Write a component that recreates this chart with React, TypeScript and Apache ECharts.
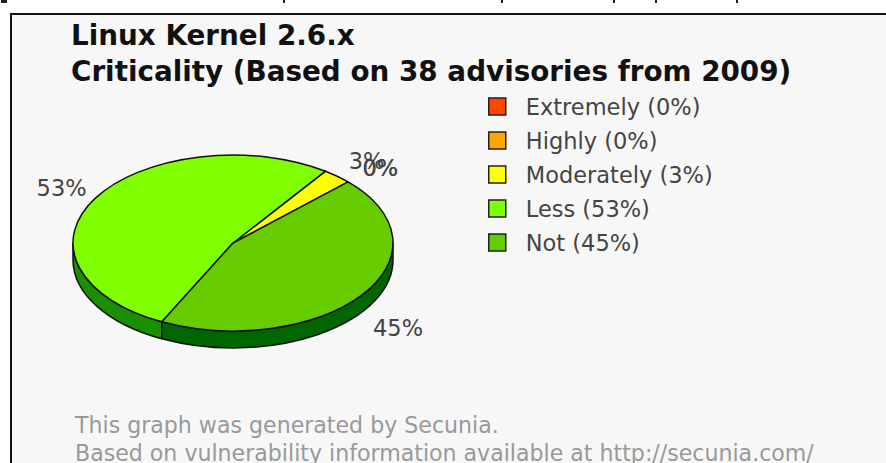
import React, { useEffect, useRef } from "react";
import * as echarts from "echarts";

const categories = ["Extremely", "Highly", "Moderately", "Less", "Not"];
const percents = [0, 0, 3, 53, 45];
const topColors = ["#ff4500", "#ffa500", "#ffff00", "#80ff00", "#66cc00"];
const sideColors = ["#b03000", "#b07000", "#a8a800", "#1a8f00", "#006600"];
const titleLines = ["Linux Kernel 2.6.x", "Criticality (Based on 38 advisories from 2009)"];
const footerLines = [
  "This graph was generated by Secunia.",
  "Based on vulnerability information available at http://secunia.com/",
];
const clippedMarks = [283, 501, 613, 655, 736];

const CX = 233, CY = 243, RX = 160, RY = 88, DEPTH = 17, START = 44;
const total = percents.reduce((a, b) => a + b, 0);
const rad = (d: number) => (d * Math.PI) / 180;
const pt = (deg: number, dy = 0) => [CX + RX * Math.cos(rad(deg)), CY - RY * Math.sin(rad(deg)) + dy];

function wedge(a0: number, a1: number) {
  const p0 = pt(a0), p1 = pt(a1);
  const large = a1 - a0 > 180 ? 1 : 0;
  return `M${CX} ${CY}L${p0[0]} ${p0[1]}A${RX} ${RY} 0 ${large} 0 ${p1[0]} ${p1[1]}Z`;
}
function wall(a0: number, a1: number) {
  const s = Math.max(a0, 180), e = Math.min(a1, 360);
  if (e <= s) return "";
  const p0 = pt(s), p1 = pt(e), q1 = pt(e, DEPTH), q0 = pt(s, DEPTH);
  return `M${p0[0]} ${p0[1]}A${RX} ${RY} 0 0 0 ${p1[0]} ${p1[1]}L${q1[0]} ${q1[1]}A${RX} ${RY} 0 0 1 ${q0[0]} ${q0[1]}Z`;
}

const seriesFor = (name: string, i: number) => {
  const before = percents.slice(0, i).reduce((a, b) => a + b, 0);
  return {
    type: "custom",
    name: `${name} (${percents[i]}%)`,
    coordinateSystem: "none",
    silent: true,
    z: percents[i] === 0 ? 4 : 3,
    itemStyle: { color: topColors[i] },
    data: [percents[i]],
    renderItem: (_: any, api: any) => {
      const v = api.value(0) as number;
      const a0 = START + (before / total) * 360;
      const a1 = a0 + (v / total) * 360;
      const mid = rad((a0 + a1) / 2);
      const sin = Math.sin(mid);
      const children: any[] = [];
      if (v > 0) {
        const w = wall(a0, a1);
        const line = { stroke: "#111", lineWidth: 1.5, lineJoin: "round" };
        if (w) children.push({ type: "path", shape: { pathData: w }, style: { fill: sideColors[i], ...line } });
        children.push({ type: "path", shape: { pathData: wedge(a0, a1) }, style: { fill: topColors[i], ...line } });
      }
      children.push({
        type: "text",
        style: {
          x: CX + 2 + 202 * Math.cos(mid),
          y: CY - 108 * sin + (sin < 0 ? 21 : 0),
          text: `${v}%`,
          fill: "#444",
          font: '22.5px "DejaVu Sans"',
          align: "center",
          verticalAlign: "middle",
        },
      });
      return { type: "group", children };
    },
  };
};

export default function App() {
  const ref = useRef<HTMLDivElement>(null);
  useEffect(() => {
    document.body.style.margin = "0";
    const chart = echarts.init(ref.current!, undefined, { renderer: "svg" });
    chart.setOption({
      animation: false,
      backgroundColor: "#ffffff",
      title: {
        text: titleLines.join("\n"),
        left: 66,
        top: 12,
        textStyle: { fontFamily: "DejaVu Sans", fontSize: 27.8, fontWeight: "bold", color: "#111", lineHeight: 36 },
      },
      legend: {
        orient: "vertical",
        left: 483,
        top: 90,
        itemWidth: 17,
        itemHeight: 17,
        itemGap: 11,
        selectedMode: false,
        icon: "rect",
        itemStyle: { borderColor: "#222", borderWidth: 1.5 },
        textStyle: { fontFamily: "DejaVu Sans", fontSize: 22.5, lineHeight: 17, color: "#444", padding: [0, 0, 0, 15] },
        data: categories.map((c, i) => `${c} (${percents[i]}%)`),
      },
      graphic: [
        { type: "rect", z: -10, shape: { x: 11, y: 14, width: 890, height: 470 }, style: { fill: "#f7f7f7", stroke: "#111", lineWidth: 2 } },
        { type: "rect", z: -9, shape: { x: 1, y: 0, width: 6, height: 3 }, style: { fill: "#222" } },
        ...clippedMarks.map((x) => ({
          type: "rect",
          z: -9,
          shape: { x, y: 0, width: 2, height: 3 },
          style: { fill: "#222" },
        })),
        ...footerLines.map((t, i) => ({
          type: "text",
          z: 1,
          x: 75,
          y: 425 + i * 28,
          style: { text: t, fill: "#999", font: '22.1px "DejaVu Sans"', verticalAlign: "middle" },
        })),
      ],
      series: categories.map(seriesFor),
    });
    return () => chart.dispose();
  }, []);
  return <div ref={ref} style={{ width: 886, height: 463 }} />;
}
